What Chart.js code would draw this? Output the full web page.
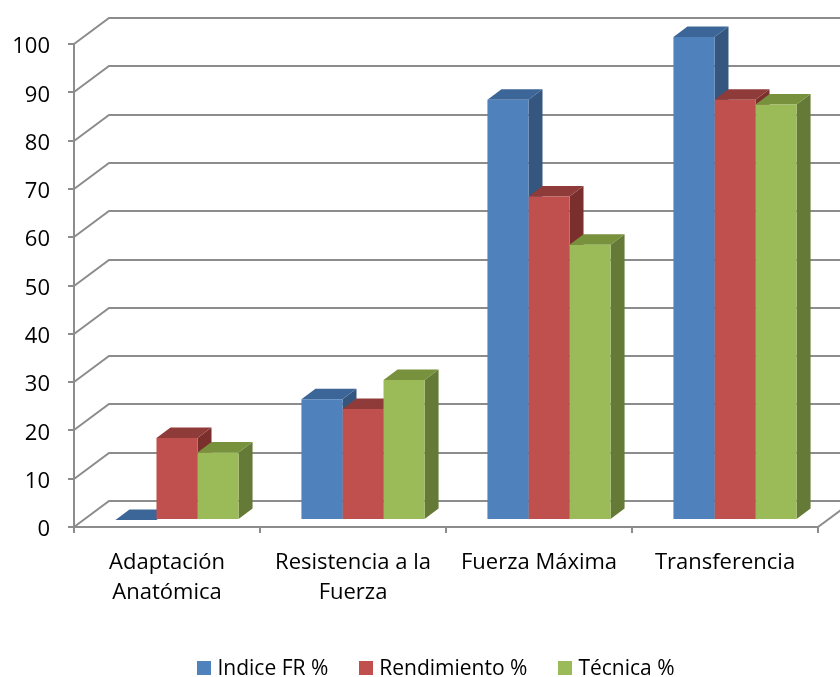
<!DOCTYPE html>
<html>
<head>
<meta charset="utf-8">
<script src="https://cdn.jsdelivr.net/npm/chart.js@4/dist/chart.umd.min.js"></script>
<style>
  html, body { margin: 0; padding: 0; background: #ffffff; }
  #chart { display: block; }
</style>
</head>
<body>
<canvas id="chart" width="840" height="677"></canvas>
<script>
// Categories (multi-line labels) and series values
const categories = [
  ['Adaptación', 'Anatómica'],
  ['Resistencia a la', 'Fuerza'],
  ['Fuerza Máxima'],
  ['Transferencia']
];
const seriesNames = ['Indice FR %', 'Rendimiento %', 'Técnica %'];
const indiceFR    = [0, 25, 87, 100];
const rendimiento = [17, 23, 67, 87];
const tecnica     = [14, 29, 57, 86];
const yTickValues = [0, 10, 20, 30, 40, 50, 60, 70, 80, 90, 100];

// Styling
const FONT_FAMILY = '"Open Sans", "Noto Sans", sans-serif';
const GRID = '#8c8c8c';
const faces = [
  { front: '#4f81bd', top: '#3d6698', side: '#34567f' },
  { front: '#c0504d', top: '#8f3b39', side: '#7b2f2d' },
  { front: '#9bbb59', top: '#77913d', side: '#657a36' }
];
const WALL_DEPTH = { dx: 35, dy: -26 };   // back wall offset from the front plane
const BAR_SHIFT  = { dx: 10, dy: -7 };    // bars stand slightly behind the front plane
const BAR_DEPTH  = { dx: 14, dy: -10.5 }; // depth of each column

function poly(ctx, pts, fill) {
  ctx.beginPath();
  ctx.moveTo(pts[0][0], pts[0][1]);
  for (let i = 1; i < pts.length; i++) ctx.lineTo(pts[i][0], pts[i][1]);
  ctx.closePath();
  ctx.fillStyle = fill;
  ctx.fill();
}

const columns3d = {
  id: 'columns3d',
  beforeDatasetsDraw(chart) {
    const { ctx, chartArea: { left, right, bottom }, scales: { y } } = chart;

    // back wall and floor lines
    ctx.save();
    ctx.strokeStyle = GRID;
    ctx.lineWidth = 2;
    yTickValues.forEach(v => {
      const py = Math.round(y.getPixelForValue(v));
      ctx.beginPath();
      ctx.moveTo(left, py);
      ctx.lineTo(left + WALL_DEPTH.dx, py + WALL_DEPTH.dy);
      ctx.lineTo(chart.width + 40, py + WALL_DEPTH.dy);
      ctx.stroke();
    });
    ctx.beginPath();
    ctx.moveTo(right, bottom);
    ctx.lineTo(right + WALL_DEPTH.dx, bottom + WALL_DEPTH.dy);
    ctx.stroke();
    ctx.restore();

    // bars are drawn in a plane shifted back from the axis plane
    ctx.save();
    ctx.translate(BAR_SHIFT.dx, BAR_SHIFT.dy);
    const n = chart.data.labels.length;
    for (let i = 0; i < n; i++) {
      chart.data.datasets.forEach((ds, d) => {
        const el = chart.getDatasetMeta(d).data[i];
        const { x, y: top, base, width } = el.getProps(['x', 'y', 'base', 'width'], true);
        const L = x - width / 2, R = x + width / 2;
        const bx = BAR_DEPTH.dx, by = BAR_DEPTH.dy;
        poly(ctx, [[R, top], [R + bx, top + by], [R + bx, base + by], [R, base]], faces[d].side);
        poly(ctx, [[L, top], [L + bx, top + by], [R + bx, top + by], [R, top]], faces[d].top);
      });
    }
  },
  afterDatasetsDraw(chart) {
    chart.ctx.restore();
  },
  afterDraw(chart) {
    // legend row under the chart
    const ctx = chart.ctx;
    const font = '21px ' + FONT_FAMILY;
    const box = 14, gap = 6, spacing = 31, cx = 436, cy = 668;
    ctx.save();
    ctx.font = font;
    const items = chart.data.datasets.map((ds, d) => ({
      text: ds.label, color: faces[d].front, w: ctx.measureText(ds.label).width
    }));
    const total = items.reduce((s, it) => s + box + gap + it.w, 0) + spacing * (items.length - 1);
    let x = cx - total / 2;
    ctx.textBaseline = 'middle';
    ctx.textAlign = 'left';
    items.forEach(it => {
      ctx.fillStyle = it.color;
      ctx.fillRect(Math.round(x), cy - box / 2, box, box);
      ctx.fillStyle = '#000000';
      ctx.fillText(it.text, x + box + gap, cy + 1);
      x += box + gap + it.w + spacing;
    });
    ctx.restore();
  }
};

const seriesValues = [indiceFR, rendimiento, tecnica];

new Chart(document.getElementById('chart'), {
  type: 'bar',
  data: {
    labels: categories,
    datasets: seriesNames.map((name, d) => ({
      label: name,
      data: seriesValues[d],
      backgroundColor: faces[d].front,
      borderWidth: 0,
      clip: false
    }))
  },
  options: {
    responsive: false,
    animation: false,
    devicePixelRatio: 1,
    layout: { padding: { top: 44, right: 22, left: 0, bottom: 0 } },
    datasets: { bar: { categoryPercentage: 0.662, barPercentage: 1 } },
    plugins: {
      legend: { display: false },
      tooltip: { enabled: false }
    },
    scales: {
      x: {
        grid: { display: true, drawOnChartArea: false, tickLength: 6, color: GRID, lineWidth: 2, offset: true },
        border: { display: true, color: GRID, width: 2 },
        ticks: {
          color: '#000000',
          font: { family: FONT_FAMILY, size: 22, lineHeight: 1.4 },
          padding: 14,
          maxRotation: 0,
          autoSkip: false
        },
        afterFit(scale) { scale.height = 150; }
      },
      y: {
        min: 0,
        max: 100,
        afterBuildTicks(scale) { scale.ticks = yTickValues.map(v => ({ value: v })); },
        grid: { display: true, drawOnChartArea: false, tickLength: 6, color: GRID, lineWidth: 2 },
        border: { display: true, color: GRID, width: 2 },
        ticks: {
          color: '#000000',
          font: { family: FONT_FAMILY, size: 22 },
          padding: 18,
          labelOffset: 3
        },
        afterFit(scale) { scale.width = 74; }
      }
    }
  },
  plugins: [columns3d]
});
</script>
</body>
</html>
